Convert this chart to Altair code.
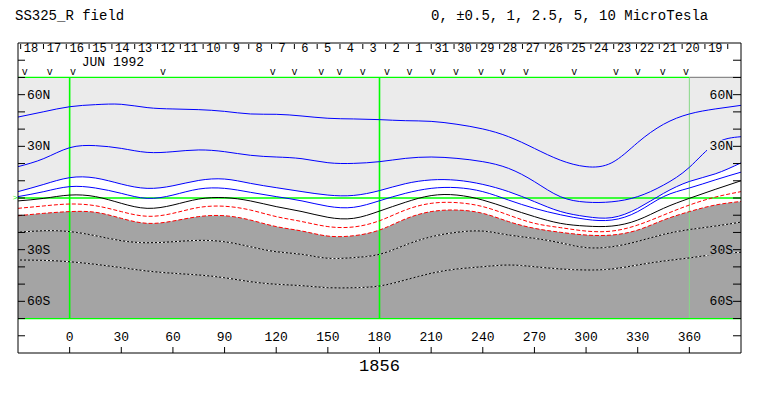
import altair as alt
import pandas as pd

# ---------------- data ----------------
lons = [-30, -15, 0, 15, 30, 45, 60, 75, 90, 105, 120, 135, 150, 165, 180,
        195, 210, 225, 240, 255, 270, 285, 300, 315, 330, 345, 360, 375, 390]

pos5 = [47.0, 50.1, 53.0, 54.2, 54.4, 52.5, 51.7, 51.3, 50.3, 48.8, 48.6, 47.6, 46.3, 45.9, 45.5,
        44.9, 44.5, 42.8, 40.1, 35.6, 28.8, 22.0, 18.2, 20.5, 32.2, 42.8, 48.8, 51.7, 53.8]
pos25 = [18.2, 22.9, 29.2, 30.4, 28.8, 26.5, 26.9, 27.9, 26.9, 24.8, 23.8, 22.8, 20.5, 20.1, 21.1,
         23.0, 23.8, 23.0, 21.1, 17.2, 9.5, 0.8, -2.4, -2.2, 0.8, 7.5, 17.8, 31.5, 35.6]
pos1 = [3.7, 7.9, 11.8, 11.6, 8.1, 5.6, 7.1, 10.2, 11.0, 8.5, 6.0, 3.7, 1.7, 1.5, 4.3,
        8.3, 10.5, 10.3, 7.9, 3.7, -2.1, -7.8, -10.8, -11.4, -6.0, 2.7, 9.6, 14.0, 20.4]
pos05 = [0.8, 3.7, 6.6, 5.8, 2.7, -0.2, 1.7, 5.2, 5.6, 3.3, 0.8, -1.7, -4.8, -5.4, -1.6,
         2.7, 5.6, 6.0, 3.7, -1.2, -6.0, -9.7, -12.4, -12.8, -7.9, 0.8, 5.8, 10.5, 15.0]
zero = [-1.7, -0.2, 1.7, 0.8, -3.1, -6.0, -4.1, -0.6, 0.2, -1.7, -5.0, -7.9, -11.2, -11.8, -7.6,
        -2.5, 1.4, 1.7, -1.2, -6.0, -10.8, -14.7, -16.3, -16.3, -12.8, -6.0, -0.2, 5.0, 10.0]
neg05 = [-6.0, -4.6, -3.5, -4.5, -7.9, -10.6, -8.9, -5.5, -4.8, -7.0, -10.8, -13.7, -16.6, -16.8, -13.2,
         -7.0, -3.1, -2.7, -5.0, -9.9, -14.7, -17.2, -19.2, -19.2, -15.7, -9.9, -4.1, 0.5, 3.7]
neg1 = [-10.3, -8.9, -7.9, -8.3, -11.8, -14.7, -13.4, -10.8, -10.3, -12.8, -16.6, -19.2, -22.1, -21.9, -18.6,
        -12.2, -7.9, -7.0, -8.9, -13.7, -17.6, -19.9, -21.5, -21.5, -18.6, -12.8, -7.9, -4.1, -2.0]
neg25 = [-19.9, -19.0, -19.5, -21.9, -24.8, -26.0, -25.4, -24.6, -25.4, -28.3, -31.2, -32.7, -35.0, -34.6, -32.7,
         -27.3, -22.5, -19.9, -19.2, -21.5, -23.4, -26.0, -28.8, -28.3, -25.2, -21.1, -18.3, -16.3, -14.0]
neg5 = [-36.0, -36.2, -37.0, -38.5, -40.4, -42.4, -43.7, -44.7, -46.3, -48.6, -50.1, -50.9, -52.1, -52.1, -51.1,
        -47.6, -43.7, -41.2, -39.9, -38.9, -39.9, -41.2, -41.8, -41.2, -38.9, -36.6, -34.8, -32.7, -31.5]

day_labels = ["18", "17", "16", "15", "14", "13", "12", "11", "10", "9", "8", "7", "6", "5", "4", "3",
              "2", "1", "31", "30", "29", "28", "27", "26", "25", "24", "23", "22", "21", "20", "19"]
day_tick_start = -28.45
day_step = 13.25
marker_lons = [-26.1, -11.6, 1.9, 54.2, 118.0, 130.6, 146.2, 156.8, 170.3, 184.4, 197.4,
               210.9, 224.5, 239.0, 251.6, 265.1, 293.2, 317.4, 330.0, 344.5, 358.1]
lon_ticks = list(range(0, 361, 30))
lat_ticks = list(range(-80, 81, 10))
lat_label_vals = [60, 30, -30, -60]
lat_label_text = ["60N", "30N", "30S", "60S"]
green_meridians = [0, 180]
dim_meridian = [360]
map_top, map_bottom = 70, -70
lon_min, lon_max = -30, 390
title_left = "SS325_R field"
title_right = "0, \u00b10.5, 1, 2.5, 5, 10 MicroTesla"
month_label = "JUN 1992"
month_lon = 7.0
rotation = "1856"
rotation_lon = 180

# ---------------- chart ----------------
W, H = 723, 310
FONT = "Liberation Mono"
LIGHT, DARK, GREEN = "#ebebeb", "#a4a4a4", "#00ff00"
INTERP = "natural"

xs = alt.Scale(domain=[lon_min, lon_max], nice=False, zero=False)
ys = alt.Scale(domain=[-90, 90], nice=False, zero=False)


def xq(f="lon"):
    return alt.X(f"{f}:Q", scale=xs, axis=None)


def yq(f="lat"):
    return alt.Y(f"{f}:Q", scale=ys, axis=None)


df = pd.DataFrame({"lon": lons, "p5": pos5, "p25": pos25, "p1": pos1, "p05": pos05,
                   "zero": zero, "n05": neg05, "n1": neg1, "n25": neg25, "n5": neg5})
df["top"] = map_top
df["bot"] = map_bottom
base = alt.Chart(df)

light = base.mark_area(color=LIGHT, interpolate=INTERP).encode(
    x=xq(), y=yq("p1"), y2="top:Q")
dark = base.mark_area(color=DARK, interpolate=INTERP).encode(
    x=xq(), y=yq("n1"), y2="bot:Q")


def line(f, color, dash=None, width=1.0):
    kw = dict(color=color, strokeWidth=width, interpolate=INTERP)
    if dash:
        kw["strokeDash"] = dash
    return base.mark_line(**kw).encode(x=xq(), y=yq(f))


# green reference lines
vr = pd.DataFrame({"lon": green_meridians + dim_meridian,
                   "lo": [map_bottom] * 3, "hi": [map_top] * 3,
                   "c": [GREEN, GREEN, "#86d886"],
                   "w": [1.6, 1.6, 1.0]})
vrules = alt.Chart(vr).mark_rule().encode(
    x=xq(), y=yq("lo"), y2="hi:Q", color=alt.Color("c:N", scale=None),
    strokeWidth=alt.StrokeWidth("w:Q", scale=None))
edges = pd.DataFrame({
    "x": [lon_min, lon_min, dim_meridian[0], lon_min],
    "x2": [lon_max, dim_meridian[0], lon_max, lon_max],
    "lat": [0, map_top, map_top, map_bottom],
    "c": [GREEN, GREEN, "#8a8a8a", GREEN],
})
hrules = alt.Chart(edges).mark_rule(strokeWidth=1.3).encode(
    x=xq("x"), x2="x2:Q", y=yq(), color=alt.Color("c:N", scale=None))

# latitude ticks (inward, both sides)
lt = alt.Chart(pd.DataFrame({"lat": lat_ticks}))
ltick_l = lt.mark_rule(color="black").encode(y=yq(), x=alt.value(0), x2=alt.value(7))
ltick_r = lt.mark_rule(color="black").encode(y=yq(), x=alt.value(W - 8), x2=alt.value(W))

# latitude labels with background boxes
ll = pd.DataFrame({"lat": lat_label_vals, "t": lat_label_text,
                   "bg": [LIGHT if v > 0 else DARK for v in lat_label_vals]})
llc = alt.Chart(ll)
box_l = llc.mark_rect(yOffset=-6, y2Offset=6).encode(
    y=yq(), y2="lat:Q", x=alt.value(8), x2=alt.value(35), color=alt.Color("bg:N", scale=None))
box_r = llc.mark_rect(yOffset=-6, y2Offset=6).encode(
    y=yq(), y2="lat:Q", x=alt.value(W - 34), x2=alt.value(W - 8), color=alt.Color("bg:N", scale=None))
lab_l = llc.mark_text(font=FONT, fontSize=13, align="left", baseline="middle", color="black").encode(
    y=yq(), x=alt.value(9), text="t:N")
lab_r = llc.mark_text(font=FONT, fontSize=13, align="right", baseline="middle", color="black").encode(
    y=yq(), x=alt.value(W - 8), text="t:N")

# longitude ticks & labels (inside bottom)
lo = alt.Chart(pd.DataFrame({"lon": lon_ticks, "t": [str(v) for v in lon_ticks]}))
lon_tick = lo.mark_rule(color="black").encode(x=xq(), y=alt.value(H - 6), y2=alt.value(H))
lon_lab = lo.mark_text(font=FONT, fontSize=13, baseline="middle", color="black").encode(
    x=xq(), y=alt.value(H - 16), text="t:N")

# day ticks & labels on top strip
dticks = pd.DataFrame({"lon": [day_tick_start + i * day_step for i in range(len(day_labels) + 1)]})
dlabs = pd.DataFrame({"lon": [day_tick_start + (i + 0.5) * day_step for i in range(len(day_labels))],
                      "t": day_labels})
day_tick = alt.Chart(dticks).mark_rule(color="black").encode(x=xq(), y=alt.value(1), y2=alt.value(6))
day_lab = alt.Chart(dlabs).mark_text(font=FONT, fontSize=12, baseline="middle", dx=-1, color="black").encode(
    x=xq(), y=alt.value(5), text="t:N")
month = alt.Chart(pd.DataFrame({"lon": [month_lon], "t": [month_label]})).mark_text(
    font=FONT, fontSize=13, align="left", baseline="middle", color="black").encode(
    x=xq(), y=alt.value(18.5), text="t:N")
markers = alt.Chart(pd.DataFrame({"lon": marker_lons, "t": ["v"] * len(marker_lons)})).mark_text(
    font=FONT, fontSize=10, baseline="middle", color="black").encode(x=xq(), y=alt.value(28.5), text="t:N")

# titles
one = pd.DataFrame({"t": [title_left], "t2": [title_right]})
t_left = alt.Chart(one).mark_text(font=FONT, fontSize=14, align="left", baseline="middle", color="black").encode(
    x=alt.value(-3), y=alt.value(-27), text="t:N")
t_right = alt.Chart(one).mark_text(font=FONT, fontSize=14, align="left", baseline="middle", color="black").encode(
    x=alt.value(413), y=alt.value(-27), text="t2:N")
rot = alt.Chart(pd.DataFrame({"lon": [rotation_lon], "t": [rotation]})).mark_text(
    font=FONT, fontSize=17, baseline="middle", color="black").encode(x=xq(), y=alt.value(H + 13), text="t:N")
eqmark = alt.Chart(pd.DataFrame({"lat": [0], "t": [">"]})).mark_text(
    font=FONT, fontSize=8, align="right", baseline="middle", color=GREEN).encode(
    x=alt.value(-0.5), y=yq(), text="t:N")

frame = alt.Chart(pd.DataFrame({"a": [0]})).mark_rect(fillOpacity=0, stroke="black", strokeWidth=1).encode(
    x=alt.value(0), x2=alt.value(W), y=alt.value(0), y2=alt.value(H))

chart = alt.layer(
    light, dark,
    vrules, hrules,
    line("p5", "#0000ff"), line("p25", "#0000ff"), line("p1", "#0000ff"), line("p05", "#0000ff"),
    line("zero", "black"),
    line("n05", "#ff0000", [4, 2]), line("n1", "#ff0000", [4, 2]),
    line("n25", "black"), line("n25", "white", [2, 2]),
    line("n5", "black"), line("n5", "white", [2, 2]),
    ltick_l, ltick_r, box_l, box_r, lab_l, lab_r,
    lon_tick, lon_lab, day_tick, day_lab, month, markers,
    t_left, t_right, rot, eqmark, frame,
).properties(
    width=W, height=H,
    autosize=alt.AutoSizeParams(type="none"),
    padding={"left": 10, "top": 35, "right": 12, "bottom": 32},
    background="white",
).configure_view(stroke="transparent")

chart.save("out.html", embed_options={"renderer": "svg", "actions": False})
